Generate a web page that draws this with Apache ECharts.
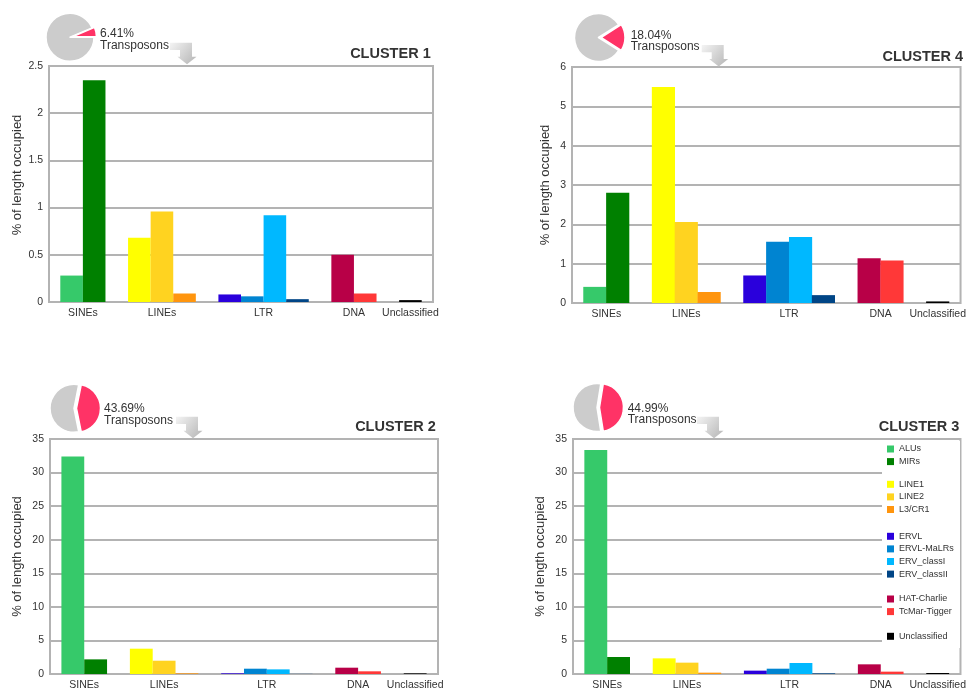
<!DOCTYPE html>
<html>
<head>
<meta charset="utf-8">
<script src="https://cdn.jsdelivr.net/npm/echarts@6/dist/echarts.min.js"></script>
<style>html,body{margin:0;padding:0;background:#fff}#chart{width:969px;height:695px}</style>
</head>
<body>
<div id="chart"></div>
<script>
// ---- data ----
const categories = ['SINEs', 'LINEs', 'LTR', 'DNA', 'Unclassified'];
const subfamilies = [
  ['ALUs', 'MIRs'],
  ['LINE1', 'LINE2', 'L3/CR1'],
  ['ERVL', 'ERVL-MaLRs', 'ERV_classI', 'ERV_classII'],
  ['HAT-Charlie', 'TcMar-Tigger'],
  ['Unclassified']
];
const subColors = ['#36c96a', '#008000', '#ffff00', '#ffd320', '#ff950e',
  '#2a00dc', '#0084d1', '#00b8ff', '#004586', '#b80047', '#ff3838', '#000000'];
// % of length occupied, in subfamily order
const cluster1 = [0.28, 2.35, 0.68, 0.96, 0.09, 0.08, 0.06, 0.92, 0.03, 0.50, 0.09, 0.02];
const cluster4 = [0.41, 2.80, 5.49, 2.06, 0.28, 0.70, 1.56, 1.68, 0.20, 1.14, 1.08, 0.04];
const cluster2 = [32.4, 2.18, 3.77, 1.98, 0.10, 0.10, 0.79, 0.69, 0.02, 0.94, 0.40, 0.10];
const cluster3 = [33.37, 2.53, 2.33, 1.69, 0.20, 0.50, 0.79, 1.64, 0.10, 1.44, 0.35, 0.15];
const clusterNames = ['CLUSTER 1', 'CLUSTER 4', 'CLUSTER 2', 'CLUSTER 3'];
const transposonPct = [6.41, 18.04, 43.69, 44.99];
const yMax = [2.5, 6, 35, 35];
const yInterval = [0.5, 1, 5, 5];
const yNames = ['% of lenght occupied', '% of length occupied', '% of length occupied', '% of length occupied'];

// ---- layout (styles / positions) ----
const FONT = 'Liberation Sans, Arial, sans-serif';
const panels = [
  { values: cluster1, grid: { left: 49, top: 66, width: 384, height: 236 }, nameGap: 25, namePad: 18,
    title: { right: 538.3, top: 46 }, pie: [70, 37.3], text: [100, 28], arrow: [170, 42.7] },
  { values: cluster4, grid: { left: 572, top: 67, width: 394, height: 236 }, nameGap: 20, namePad: 0,
    title: { right: 6, top: 48.5 }, pie: [598.5, 37.5], text: [630.7, 29.5], arrow: [701.7, 45] },
  { values: cluster2, grid: { left: 50, top: 439, width: 388, height: 235 }, nameGap: 26, namePad: 0,
    title: { right: 533.3, top: 419.3 }, pie: [74, 408.3], text: [104, 403], arrow: [176, 416.7] },
  { values: cluster3, grid: { left: 573, top: 439, width: 389, height: 235 }, nameGap: 26, namePad: 0,
    title: { right: 9.7, top: 419.3 }, pie: [597, 407.5], text: [627.7, 402.5], arrow: [697, 416.7] }
];
const pieTilt = [11.5, 0, 0, 0];

// slot positions of bars (one slot per bar, one empty slot between groups)
const barPos = [];
const groupCenter = [];
let pos = 0.5;
subfamilies.forEach(g => {
  const start = pos + 0.5;
  g.forEach(() => { barPos.push(pos + 0.5); pos += 1; });
  groupCenter.push((start + pos - 0.5) / 2);
  pos += 1;
});
const totalSlots = pos - 0.5; // last bar end + half slot
const allSubs = subfamilies.flat();

const option = {
  backgroundColor: '#fff',
  animation: false,
  textStyle: { fontFamily: FONT },
  grid: [], xAxis: [], yAxis: [], series: [], title: [], graphic: [], legend: []
};

panels.forEach((p, i) => {
  option.grid.push(Object.assign({ show: true, borderColor: '#b3b3b3', borderWidth: 2, backgroundColor: 'transparent' }, p.grid));
  option.xAxis.push({
    type: 'value', gridIndex: i, min: 0, max: totalSlots, interval: 0.5,
    axisLine: { show: false }, axisTick: { show: false }, splitLine: { show: false },
    axisLabel: {
      color: '#333', fontSize: 10.5, fontFamily: FONT, margin: 6, showMinLabel: true, showMaxLabel: true,
      formatter: v => { const k = groupCenter.findIndex(c => Math.abs(c - v) < 0.01); return k >= 0 ? categories[k] : ''; }
    }
  });
  option.yAxis.push({
    type: 'value', gridIndex: i, min: 0, max: yMax[i], interval: yInterval[i],
    name: yNames[i], nameLocation: 'middle', nameGap: p.nameGap,
    nameTextStyle: { color: '#333', fontSize: 13, fontFamily: FONT, padding: [0, 0, 0, p.namePad] },
    axisLine: { show: false }, axisTick: { show: false },
    axisLabel: { color: '#333', fontSize: 10.5, fontFamily: FONT, margin: 6 },
    splitLine: { show: true, lineStyle: { color: '#b3b3b3', width: 2 } }
  });
  const bw = p.grid.width / totalSlots;
  allSubs.forEach((name, j) => {
    option.series.push({
      type: 'bar', name: name, xAxisIndex: i, yAxisIndex: i,
      barWidth: bw, barGap: '-100%',
      itemStyle: { color: subColors[j] },
      data: [[barPos[j], p.values[j]]]
    });
  });
  const redDeg = transposonPct[i] * 3.6;
  option.series.push({
    type: 'pie', center: p.pie, radius: 24, startAngle: redDeg / 2 + pieTilt[i],
    clockwise: true, silent: true, label: { show: false }, labelLine: { show: false },
    selectedMode: 'single', selectedOffset: 2.5,
    itemStyle: { borderColor: '#fff', borderWidth: 1.5 },
    data: [
      { value: transposonPct[i], name: 'Transposons', selected: true, itemStyle: { color: '#ff3366' } },
      { value: 100 - transposonPct[i], name: 'Other', itemStyle: { color: '#cccccc' } }
    ]
  });
  option.title.push({
    text: clusterNames[i], right: p.title.right, top: p.title.top, padding: 0,
    textStyle: { fontSize: 14.5, fontWeight: 'bold', color: '#333', fontFamily: FONT, lineHeight: 16 }
  });
  option.graphic.push({
    type: 'text', x: p.text[0], y: p.text[1], z: 10,
    style: { text: transposonPct[i].toFixed(2) + '%\nTransposons', font: '12px ' + FONT, fill: '#333', lineHeight: 11.5 }
  });
  const [ax, ay] = p.arrow;
  const pts = [[0, 0], [22, 0], [22, 14], [26.5, 14], [17, 21.5], [7.5, 14], [10, 14], [10, 7.3], [0, 7.3]]
    .map(q => [ax + q[0], ay + q[1]]);
  option.graphic.push({
    type: 'polygon', z: 10, shape: { points: pts },
    style: {
      fill: { type: 'linear', x: 0, y: 0, x2: 1, y2: 1,
        colorStops: [{ offset: 0, color: '#f4f4f4' }, { offset: 1, color: '#b4b4b4' }] }
    }
  });
});

// white box behind the legend of cluster 3
option.graphic.push({ type: 'rect', z: 1, shape: { x: 882, y: 441, width: 78, height: 207 }, style: { fill: '#fff' } });

const legendTops = [444.5, 479.8, 531.8, 594.5, 631.8];
subfamilies.forEach((g, k) => {
  option.legend.push({
    data: g, orient: 'vertical', left: 887, top: legendTops[k], padding: 0,
    itemWidth: 7, itemHeight: 7, itemGap: 3.6, icon: 'rect', selectedMode: false,
    textStyle: { fontSize: 9, color: '#333', fontFamily: FONT }
  });
});

const chart = echarts.init(document.getElementById('chart'), null, { renderer: 'canvas' });
chart.setOption(option);
</script>
</body>
</html>
